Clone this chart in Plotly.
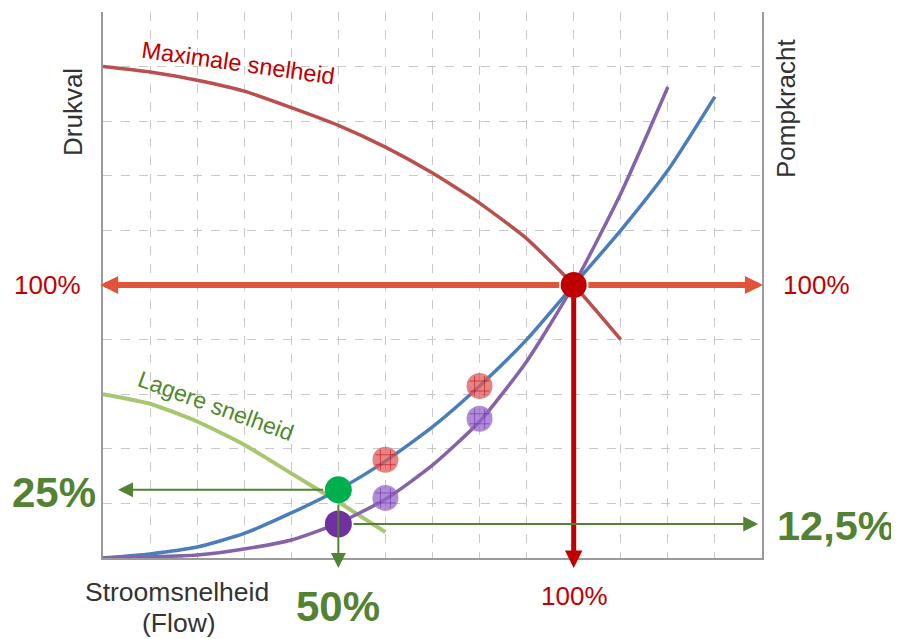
import plotly.graph_objects as go

# ---------------- data (percent of nominal) ----------------
flow_max = [0, 10, 20, 30, 40, 50, 60, 70, 80, 90, 100, 110]
head_max = [180, 178, 175, 171, 165, 158.5, 150.5, 141, 130, 117, 100, 80]

flow_low = [0, 10, 20, 30, 40, 50, 60]
head_low = [60, 56.5, 50, 41.5, 31, 20.5, 9.5]

flow_sys = [0, 10, 20, 30, 40, 50, 60, 70, 80, 90, 100, 110, 120, 130]
head_sys = [0, 1.5, 4, 9, 16.5, 25, 35.5, 48, 63, 80, 100, 120, 142, 169]

flow_pow = [0, 10, 20, 30, 40, 50, 60, 70, 80, 90, 100, 110, 120]
power = [0, 0.4, 1.1, 3.3, 6.6, 12.8, 21.5, 34, 50, 72, 100, 133.5, 172.5]

op_max = (100, 100)
op_low_head = (50, 25)
op_low_power = (50, 12.5)
mid_flow = [60, 80]
mid_head = [36, 63]
mid_power = [22, 51]

# ---------------- layout geometry ----------------
OFF = 8  # page body margin of the browser
W, H = 899 - OFF, 639 - OFF
L, R, T, B = 103, 762, 12, 558  # plot area in window pixels
FONT = "Liberation Sans, Arial, Helvetica, sans-serif"


def px(x, y):
    return (x - L) / (R - L), (B - y) / (B - T)


fig = go.Figure()

fig.add_trace(go.Scatter(x=flow_max, y=head_max, mode="lines",
                         line=dict(color="#b9504d", width=3.5, shape="spline", smoothing=0.5)))
fig.add_trace(go.Scatter(x=flow_low, y=head_low, mode="lines",
                         line=dict(color="#a8c66f", width=4, shape="spline", smoothing=0.5)))
fig.add_trace(go.Scatter(x=flow_sys, y=head_sys, mode="lines",
                         line=dict(color="#4a7ebb", width=3.5, shape="spline", smoothing=0.6)))
fig.add_trace(go.Scatter(x=flow_pow, y=power, mode="lines",
                         line=dict(color="#8363a9", width=3.5, shape="spline", smoothing=0.6)))

# hatched intermediate points
fig.add_trace(go.Scatter(x=mid_flow, y=mid_head, mode="markers",
                         marker=dict(size=26, color="rgba(222,90,90,0.75)", line=dict(width=0))))
fig.add_trace(go.Scatter(x=mid_flow, y=mid_head, mode="markers",
                         marker=dict(size=20, symbol="hash-open", color="rgba(190,20,30,0.6)",
                                     line=dict(width=1, color="rgba(190,20,30,0.6)"))))
fig.add_trace(go.Scatter(x=mid_flow, y=mid_power, mode="markers",
                         marker=dict(size=26, color="rgba(150,100,200,0.75)", line=dict(width=0))))
fig.add_trace(go.Scatter(x=mid_flow, y=mid_power, mode="markers",
                         marker=dict(size=20, symbol="hash-open", color="rgba(110,50,170,0.6)",
                                     line=dict(width=1, color="rgba(110,50,170,0.6)"))))

# solid operating points
fig.add_trace(go.Scatter(x=[op_max[0]], y=[op_max[1]], mode="markers",
                         marker=dict(size=26, color="#c00000", line=dict(width=0))))
fig.add_trace(go.Scatter(x=[op_low_head[0]], y=[op_low_head[1]], mode="markers",
                         marker=dict(size=27, color="#00b050", line=dict(width=0))))
fig.add_trace(go.Scatter(x=[op_low_power[0]], y=[op_low_power[1]], mode="markers",
                         marker=dict(size=27, color="#7030a0", line=dict(width=0))))

annotations = []


def arrow(x0, y0, x1, y1, color, width, size):
    annotations.append(dict(x=x1, y=y1, ax=x0, ay=y0, xref="x", yref="y",
                            axref="x", ayref="y", text="", showarrow=True,
                            arrowhead=2, arrowsize=size, arrowwidth=width,
                            arrowcolor=color))


# red 100% double arrow (split at the dot)
arrow(op_max[0] - 2.8, op_max[1], -0.6, op_max[1], "#e0543a", 6, 0.6)
arrow(op_max[0] + 2.8, op_max[1], 140.2, op_max[1], "#e0543a", 6, 0.6)
# red vertical arrow
arrow(op_max[0], op_max[1] - 4, op_max[0], -3.7, "#c00000", 5, 0.7)
# green arrows
arrow(op_low_head[0] - 2.9, op_low_head[1], 3.2, op_low_head[1], "#548235", 2, 1.5)
arrow(op_low_head[0], op_low_head[1] - 4.9, op_low_head[0], -3.7, "#548235", 2, 1.5)
arrow(op_low_power[0] + 2.9, op_low_power[1], 139.2, op_low_power[1], "#548235", 2, 1.5)


def label(text, x, y, size, color, bold=False, angle=0):
    ax, ay = px(x, y)
    annotations.append(dict(x=ax, y=ay, xref="paper", yref="paper", showarrow=False,
                            text=f"<b>{text}</b>" if bold else text, textangle=angle,
                            xanchor="center", yanchor="middle",
                            font=dict(family=FONT, size=size, color=color)))


label("Drukval", 73, 112, 26, "#333333", angle=-90)
label("Pompkracht", 786, 109, 26, "#333333", angle=-90)
label("100%", 47, 285, 26, "#c00000")
label("100%", 817, 285, 26, "#c00000")
label("100%", 574, 596, 26, "#c00000")
label("Stroomsnelheid", 177, 592, 26.5, "#333333")
label("(Flow)", 179, 623, 26.5, "#333333")
label("50%", 338, 606, 42, "#548235", bold=True)
label("25%", 54, 492, 42, "#548235", bold=True)
label("12,5%", 836, 525, 41.5, "#548235", bold=True)
label("Maximale snelheid", 238, 63, 23.5, "#c00000", angle=8)
label("Lagere snelheid", 216, 406, 23, "#4f8a2a", angle=20)

fig.update_layout(
    width=W, height=H,
    margin=dict(l=L - OFF, r=W + OFF - R, t=T - OFF, b=H + OFF - B, pad=0),
    paper_bgcolor="white", plot_bgcolor="white",
    showlegend=False,
    annotations=annotations,
    xaxis=dict(range=[0, 140], dtick=10, tick0=0, showticklabels=False, ticks="",
               showgrid=True, gridcolor="#c8c8c8", griddash="dash", gridwidth=1,
               zeroline=False, showline=True, linecolor="#9a9a9a", linewidth=1.5,
               fixedrange=True),
    yaxis=dict(range=[0, 200], dtick=20, tick0=0, showticklabels=False, ticks="",
               showgrid=True, gridcolor="#c8c8c8", griddash="dash", gridwidth=1,
               zeroline=False, showline=True, mirror=True, linecolor="#9a9a9a", linewidth=1.5,
               fixedrange=True),
)

fig.write_html("out.html", config=dict(displayModeBar=False))
